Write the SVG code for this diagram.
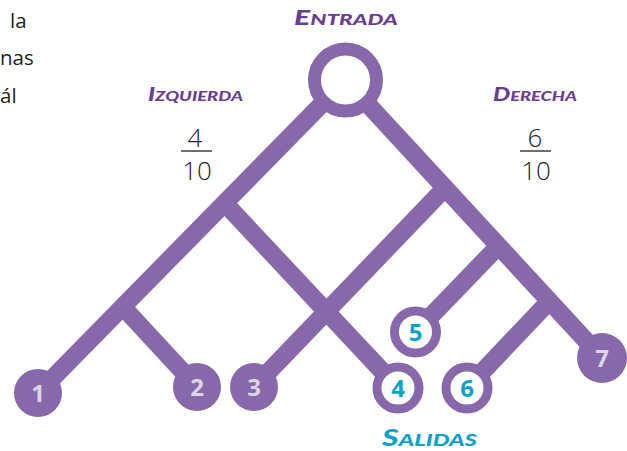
<svg xmlns="http://www.w3.org/2000/svg" width="627" height="451" viewBox="0 0 627 451">
<style>
.br{stroke:#8768aa;stroke-width:18;fill:none;stroke-linecap:butt}
.fill{fill:#8768aa}
.ring{fill:#ffffff;stroke:#8768aa;stroke-width:9}
.nf{font-family:"Open Sans","Liberation Sans",sans-serif;font-weight:700;font-size:24px;fill:#ddd4ea;text-anchor:middle}
.nr{font-family:"Open Sans","Liberation Sans",sans-serif;font-weight:700;font-size:24px;fill:#0aa2cb;text-anchor:middle}
.hd{font-family:Lato,"Open Sans","Liberation Sans",sans-serif;font-weight:900;font-style:italic;fill:#6a3e96}
.sal{font-family:Lato,"Open Sans","Liberation Sans",sans-serif;font-weight:900;font-style:italic;fill:#0aa2cb}
.fr{font-family:"Open Sans","Liberation Sans",sans-serif;font-weight:300;font-size:26px;fill:#231f20;text-anchor:middle}
.body{font-family:"Open Sans","Liberation Sans",sans-serif;font-size:20.5px;fill:#231f20}
</style>
<g id="body-text">
<text class="body" x="10" y="28">la</text>
<text class="body" x="0" y="65">nas</text>
<text class="body" x="0" y="103">ál</text>
</g>
<g id="connectors">
<line class="br" x1="345.5" y1="80" x2="38" y2="393"/>
<line class="br" x1="345.5" y1="80" x2="602" y2="358"/>
<line class="br" x1="224.6" y1="203" x2="398" y2="388"/>
<line class="br" x1="123" y1="307" x2="197" y2="387"/>
<line class="br" x1="445" y1="188" x2="254" y2="387"/>
<line class="br" x1="498.5" y1="246" x2="415.5" y2="332"/>
<line class="br" x1="549.5" y1="301" x2="467" y2="388"/>
</g>
<g id="entrada">
<circle cx="345.5" cy="80" r="31" fill="#ffffff" stroke="#8768aa" stroke-width="13"/>
<text class="hd" x="294" y="25" textLength="104" lengthAdjust="spacingAndGlyphs"><tspan font-size="20">E</tspan><tspan font-size="15">NTRADA</tspan></text>
</g>
<g id="izquierda">
<text class="hd" x="148" y="101" textLength="95" lengthAdjust="spacingAndGlyphs"><tspan font-size="18">I</tspan><tspan font-size="13.5">ZQUIERDA</tspan></text>
<text class="fr" x="195" y="147">4</text>
<line x1="181" y1="151" x2="212" y2="151" stroke="#231f20" stroke-width="1.3"/>
<text class="fr" x="197" y="180">10</text>
</g>
<g id="derecha">
<text class="hd" x="493" y="101" textLength="84" lengthAdjust="spacingAndGlyphs"><tspan font-size="18">D</tspan><tspan font-size="13.5">ERECHA</tspan></text>
<text class="fr" x="535" y="147">6</text>
<line x1="520" y1="151" x2="551" y2="151" stroke="#231f20" stroke-width="1.3"/>
<text class="fr" x="536" y="180">10</text>
</g>
<g id="n1"><circle class="fill" cx="38" cy="393" r="24"/><text class="nf" x="38" y="402">1</text></g>
<g id="n2"><circle class="fill" cx="197" cy="387" r="24"/><text class="nf" x="197" y="396">2</text></g>
<g id="n3"><circle class="fill" cx="254" cy="387" r="24"/><text class="nf" x="254" y="396">3</text></g>
<g id="n4"><circle class="ring" cx="398" cy="388" r="21"/><text class="nr" x="398" y="397">4</text></g>
<g id="n5"><circle class="ring" cx="415.5" cy="332" r="21"/><text class="nr" x="415.5" y="341">5</text></g>
<g id="n6"><circle class="ring" cx="467" cy="388" r="21"/><text class="nr" x="467" y="397">6</text></g>
<g id="n7"><circle class="fill" cx="602" cy="358" r="25"/><text class="nf" x="602" y="367">7</text></g>
<g id="salidas">
<text class="sal" x="382" y="446" textLength="95" lengthAdjust="spacingAndGlyphs"><tspan font-size="22">S</tspan><tspan font-size="16.5">ALIDAS</tspan></text>
</g>
</svg>
